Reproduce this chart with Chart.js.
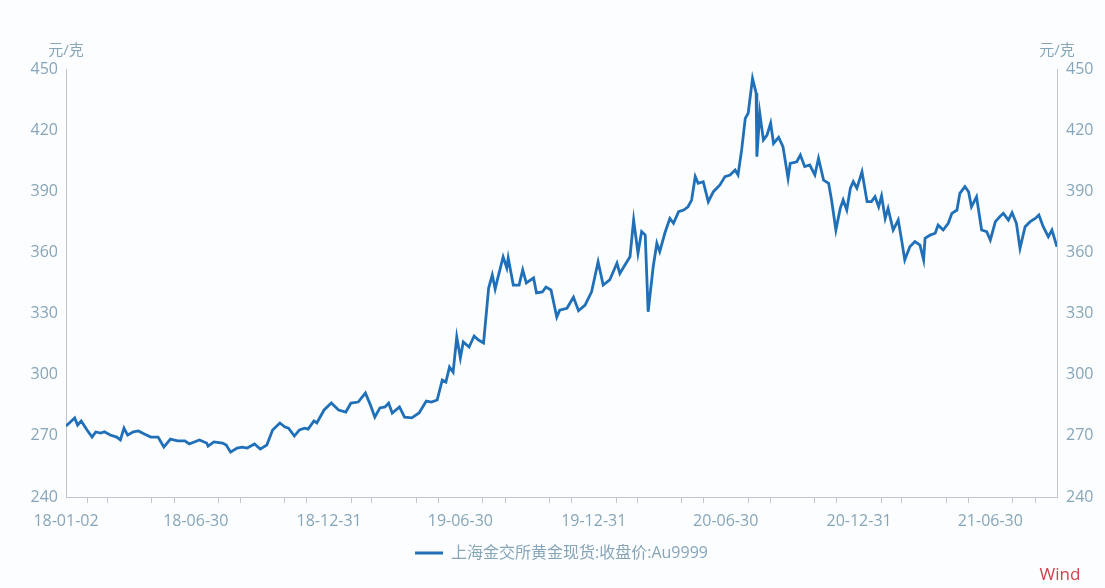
<!DOCTYPE html>
<html>
<head>
<meta charset="utf-8">
<script src="https://cdn.jsdelivr.net/npm/chart.js@4.4.1/dist/chart.umd.min.js"></script>
<style>
  html, body { margin: 0; padding: 0; background: #fcfdfe; }
  #wrap { width: 1105px; height: 588px; position: relative; }
</style>
</head>
<body>
<div id="wrap"><canvas id="myChart"></canvas></div>
<script>
// days since 2018-01-02
const days = [0, 12, 16, 21, 29, 36, 41, 48, 53, 61, 70, 75, 80, 85, 93, 100, 108, 117, 127, 135,
  144, 154, 164, 170, 184, 194, 196, 204, 216, 221, 227, 236, 243, 250, 260, 268, 277, 285, 295, 302,
  307, 315, 322, 329, 334, 342, 346, 356, 366, 376, 386, 393, 403, 413, 420, 426, 433, 440, 445, 450,
  460, 467, 477, 487, 497, 504, 512, 519, 524, 529, 534, 539, 544, 548, 556, 563, 569, 576, 583, 588,
  592, 595, 603, 608, 610, 617, 625, 630, 635, 645, 649, 657, 662, 669, 677, 681, 691, 700, 707, 716,
  725, 734, 741, 750, 760, 764, 771, 778, 783, 789, 794, 799, 803, 810, 815, 819, 826, 833, 838, 845,
  852, 858, 863, 868, 872, 879, 886, 893, 902, 909, 916, 923, 927, 932, 937, 941, 947, 952, 953, 957,
  962, 967, 972, 976, 983, 989, 996, 999, 1008, 1013, 1019, 1026, 1033, 1038, 1045, 1052, 1056, 1062,
  1068, 1072, 1077, 1082, 1086, 1091, 1098, 1105, 1111, 1116, 1121, 1125, 1130, 1134, 1141, 1148, 1153, 1157,
  1164, 1171, 1178, 1183, 1185, 1192, 1199, 1203, 1210, 1217, 1222, 1229, 1233, 1240, 1245, 1249, 1256, 1263,
  1270, 1275, 1282, 1288, 1293, 1300, 1305, 1311, 1316, 1323, 1330, 1337, 1342, 1348, 1355, 1360, 1367];
const prices = [274.8, 278.8, 275.3, 277.3, 272.9, 269.4, 271.9, 271.4, 272.0, 270.4, 269.4, 268.0, 273.8, 270.4, 272.0, 272.4, 270.9, 269.4, 269.4, 264.5,
  268.4, 267.5, 267.5, 266.0, 268.0, 266.5, 265.0, 267.0, 266.5, 265.5, 262.0, 264.0, 264.5, 264.0, 266.0, 263.5, 265.5, 272.9, 276.3, 274.3,
  273.8, 269.9, 272.9, 273.8, 273.3, 277.3, 276.3, 282.7, 286.1, 282.7, 281.7, 286.1, 286.6, 291.0, 285.1, 279.2, 283.7, 284.2, 286.1, 281.2,
  284.2, 279.2, 278.8, 281.2, 287.1, 286.6, 287.6, 297.4, 296.4, 303.8, 301.3, 318.5, 308.2, 316.1, 313.6, 319.0, 317.0, 315.6, 342.5, 348.9,
  342.0, 346.5, 357.8, 352.4, 357.3, 344.0, 344.0, 351.4, 345.0, 347.5, 340.1, 340.6, 343.0, 341.6, 328.3, 331.7, 332.6, 338.0, 331.4, 334.2,
  340.7, 355.4, 344.0, 346.5, 354.7, 349.7, 353.8, 357.9, 375.9, 359.6, 370.2, 368.5, 330.9, 353.0, 364.5, 360.4, 369.4, 376.7, 374.3, 380.0,
  380.8, 382.4, 385.7, 397.2, 393.9, 394.7, 384.9, 389.8, 393.1, 397.2, 398.0, 400.4, 398.0, 410.3, 425.8, 428.3, 445.4, 438.1, 407.0, 428.3,
  415.2, 417.6, 423.4, 413.5, 416.5, 411.9, 396.4, 403.7, 404.5, 407.8, 402.1, 402.9, 398.0, 406.2, 395.5, 393.9, 385.7, 371.0,
  381.6, 385.7, 380.8, 391.5, 394.7, 391.5, 399.6, 384.9, 384.9, 387.3, 382.4, 387.7, 376.7, 381.6, 371.0, 375.9, 365.3, 356.3,
  362.8, 365.3, 363.6, 356.3, 366.9, 368.5, 369.4, 373.4, 371.0, 374.3, 379.2, 380.8, 389.0, 392.3, 389.8, 382.4, 387.3, 371.0,
  370.2, 366.1, 375.1, 377.5, 379.2, 375.9, 379.5, 374.3, 362.0, 372.6, 375.1, 376.7, 378.4, 372.6, 367.7, 371.0, 362.8];

const tickDays = [0, 179, 363, 544, 728, 910, 1094, 1275];
const tickLabels = ['18-01-02', '18-06-30', '18-12-31', '19-06-30', '19-12-31', '20-06-30', '20-12-31', '21-06-30'];
const yTicks = [240, 270, 300, 330, 360, 390, 420, 450];
const seriesName = '上海金交所黄金现货:收盘价:Au9999';
const unit = '元/克';

const lineColor = '#1f70b8';
const textColor = '#87a5b9';
const axisColor = '#bfc6cf';
const fontFamily = '"Open Sans", "Noto Sans CJK SC", sans-serif';

// month-end minor ticks (Wind skips the quarter-end months)
let minorTicks = [];
let base = Date.UTC(2018, 0, 2);
for (let y = 2018; y <= 2021; y++) {
  for (let m = 0; m < 12; m++) {
    if ((m + 1) % 3 == 0) continue;
    let d = (Date.UTC(y, m + 1, 0) - base) / 86400000;
    if (d > 0 && d < 1367) minorTicks.push(d);
  }
}

const points = days.map((d, i) => ({x: d, y: prices[i]}));

const extras = {
  id: 'extras',
  afterLayout(chart) {
    // legend sits a little right of centre in the original
    chart.legend.left += 9;
    chart.legend.right += 9;
  },
  afterDraw(chart) {
    const c = chart.ctx, a = chart.chartArea;
    c.save();
    c.font = '15px ' + fontFamily;
    c.fillStyle = textColor;
    c.textAlign = 'center';
    c.textBaseline = 'middle';
    c.fillText(unit, a.left, a.top - 18);
    c.fillText(unit, a.right, a.top - 18);
    c.font = '17px "Open Sans", sans-serif';
    c.fillStyle = '#d0404a';
    c.fillText('Wind', 1060, 575);
    c.restore();
  }
};

const ctx = document.getElementById('myChart').getContext('2d');
const myChart = new Chart(ctx, {
  type: 'line',
  data: {
    datasets: [{
      label: seriesName,
      data: points,
      borderColor: lineColor,
      backgroundColor: lineColor,
      borderWidth: 2.8,
      pointRadius: 0,
      tension: 0
    }]
  },
  options: {
    responsive: true,
    maintainAspectRatio: false,
    animation: false,
    layout: { padding: { top: 69, left: 0, right: 0, bottom: 17 } },
    plugins: {
      tooltip: { enabled: false },
      legend: {
        position: 'bottom',
        labels: {
          color: textColor,
          font: { family: fontFamily, size: 16 },
          boxWidth: 28,
          boxHeight: 3,
          padding: 10,
          generateLabels: (chart) => [{
            text: seriesName, fillStyle: lineColor, strokeStyle: lineColor,
            lineWidth: 0, fontColor: textColor, datasetIndex: 0
          }]
        }
      }
    },
    scales: {
      x: {
        type: 'linear',
        min: 0,
        max: 1367,
        afterBuildTicks: (s) => {
          s.ticks = tickDays.concat(minorTicks).sort((a, b) => a - b).map(v => ({value: v}));
        },
        afterFit: (s) => { s.height = 38; },
        ticks: {
          autoSkip: false,
          maxRotation: 0,
          padding: 9,
          color: textColor,
          font: { family: fontFamily, size: 16 },
          callback: (v) => {
            let i = tickDays.indexOf(v);
            return i >= 0 ? tickLabels[i] : '';
          }
        },
        grid: {
          drawOnChartArea: false,
          tickLength: 6,
          color: (c) => (c.tick && tickDays.includes(c.tick.value)) ? 'rgba(0,0,0,0)' : axisColor
        },
        border: { display: true, color: axisColor, width: 1 }
      },
      y: {
        position: 'left',
        min: 240,
        max: 450,
        afterBuildTicks: (s) => { s.ticks = yTicks.map(v => ({value: v})); },
        afterFit: (s) => { s.width = 66; },
        ticks: { padding: 8, color: textColor, font: { family: fontFamily, size: 16 } },
        grid: { display: false, drawTicks: false },
        border: { display: true, color: axisColor, width: 1 }
      },
      y2: {
        position: 'right',
        min: 240,
        max: 450,
        afterBuildTicks: (s) => { s.ticks = yTicks.map(v => ({value: v})); },
        afterFit: (s) => { s.width = 48; },
        ticks: { padding: 9, color: textColor, font: { family: fontFamily, size: 16 } },
        grid: { display: false, drawTicks: false },
        border: { display: true, color: axisColor, width: 1 }
      }
    }
  },
  plugins: [extras]
});
</script>
</body>
</html>
